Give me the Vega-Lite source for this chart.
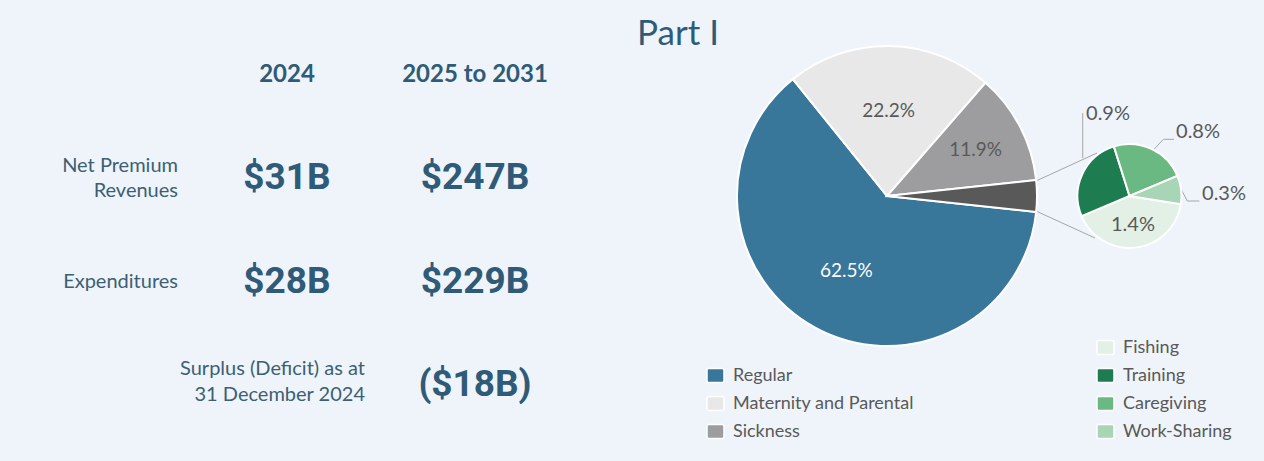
{
  "$schema": "https://vega.github.io/schema/vega-lite/v6.json",
  "background": "#EEF4F9",
  "padding": {"left": 0, "top": 17, "right": 0, "bottom": 21},
  "bounds": "flush",
  "spacing": 178.5,
  "title": {"text": "Part I", "font": "Lato", "fontSize": 35, "fontWeight": "normal", "color": "#2F5B78", "anchor": "middle", "dx": 46, "offset": -10},
  "config": {"view": {"stroke": null}, "font": "Lato"},
  "datasets": {
    "summary": [
      {"item": "Net Premium\nRevenues", "period": "2024", "value": "$31B"},
      {"item": "Net Premium\nRevenues", "period": "2025 to 2031", "value": "$247B"},
      {"item": "Expenditures", "period": "2024", "value": "$28B"},
      {"item": "Expenditures", "period": "2025 to 2031", "value": "$229B"},
      {"item": "Surplus (Deficit) as at\n31 December 2024", "period": "2025 to 2031", "value": "($18B)"}
    ],
    "main": [
      {"pie": "Main", "slice": "Regular", "share": 0.625, "k": 1},
      {"pie": "Main", "slice": "Maternity and Parental", "share": 0.222, "k": 2},
      {"pie": "Main", "slice": "Sickness", "share": 0.119, "k": 3},
      {"pie": "Main", "slice": "Other", "share": 0.034, "k": 4}
    ],
    "detail": [
      {"pie": "Detail", "slice": "Fishing", "share": 0.014, "k": 1},
      {"pie": "Detail", "slice": "Training", "share": 0.009, "k": 2},
      {"pie": "Detail", "slice": "Caregiving", "share": 0.008, "k": 3},
      {"pie": "Detail", "slice": "Work-Sharing", "share": 0.003, "k": 4}
    ]
  },
  "hconcat": [
    {
      "width": 574,
      "height": 334,
      "layer": [
        {
          "data": {"name": "summary"},
          "transform": [{"filter": "datum.item === 'Expenditures'"}],
          "mark": {"type": "text", "font": "Lato", "fontWeight": "bold", "fontSize": 24, "fill": "#2F5B77", "align": "center", "baseline": "middle"},
          "encoding": {
            "x": {"field": "period", "type": "nominal", "scale": {"type": "point", "domain": ["label", "2024", "2025 to 2031"], "padding": 0.5266}, "axis": null},
            "y": {"datum": "header", "type": "nominal", "scale": {"type": "point", "domain": ["header", "Net Premium\nRevenues", "Expenditures", "Surplus (Deficit) as at\n31 December 2024"], "padding": 0.116}, "axis": null},
            "text": {"field": "period", "type": "nominal"}
          }
        },
        {
          "data": {"name": "summary"},
          "mark": {"type": "text", "font": "Roboto", "fontWeight": "bold", "fontSize": 37, "fill": "#2F5A78", "align": "center", "baseline": "middle"},
          "encoding": {
            "x": {"field": "period", "type": "nominal", "scale": {"type": "point", "domain": ["label", "2024", "2025 to 2031"], "padding": 0.5266}, "axis": null},
            "y": {"field": "item", "type": "nominal", "scale": {"type": "point", "domain": ["header", "Net Premium\nRevenues", "Expenditures", "Surplus (Deficit) as at\n31 December 2024"], "padding": 0.116}, "axis": null},
            "text": {"field": "value", "type": "nominal"}
          }
        },
        {
          "data": {"name": "summary"},
          "transform": [{"filter": "datum.period === '2025 to 2031' && datum.item === 'Net Premium\\nRevenues'"}],
          "mark": {"type": "text", "font": "Lato", "fontSize": 20, "fill": "#3D5F75", "align": "right", "baseline": "middle", "lineBreak": "\n", "lineHeight": 25.5, "dx": 79, "dy": -12.5},
          "encoding": {
            "x": {"datum": "label", "type": "nominal", "scale": {"type": "point", "domain": ["label", "2024", "2025 to 2031"], "padding": 0.5266}, "axis": null},
            "y": {"field": "item", "type": "nominal", "scale": {"type": "point", "domain": ["header", "Net Premium\nRevenues", "Expenditures", "Surplus (Deficit) as at\n31 December 2024"], "padding": 0.116}, "axis": null},
            "text": {"field": "item", "type": "nominal"}
          }
        },
        {
          "data": {"name": "summary"},
          "transform": [{"filter": "datum.period === '2025 to 2031' && datum.item === 'Expenditures'"}],
          "mark": {"type": "text", "font": "Lato", "fontSize": 20, "fill": "#3D5F75", "align": "right", "baseline": "middle", "dx": 79, "dy": 0},
          "encoding": {
            "x": {"datum": "label", "type": "nominal", "scale": {"type": "point", "domain": ["label", "2024", "2025 to 2031"], "padding": 0.5266}, "axis": null},
            "y": {"field": "item", "type": "nominal", "scale": {"type": "point", "domain": ["header", "Net Premium\nRevenues", "Expenditures", "Surplus (Deficit) as at\n31 December 2024"], "padding": 0.116}, "axis": null},
            "text": {"field": "item", "type": "nominal"}
          }
        },
        {
          "data": {"name": "summary"},
          "transform": [{"filter": "datum.item === 'Surplus (Deficit) as at\\n31 December 2024'"}],
          "mark": {"type": "text", "font": "Lato", "fontSize": 20, "fill": "#3D5F75", "align": "right", "baseline": "middle", "lineBreak": "\n", "lineHeight": 25.5, "dx": 78, "dy": -16},
          "encoding": {
            "x": {"datum": "2024", "type": "nominal", "scale": {"type": "point", "domain": ["label", "2024", "2025 to 2031"], "padding": 0.5266}, "axis": null},
            "y": {"field": "item", "type": "nominal", "scale": {"type": "point", "domain": ["header", "Net Premium\nRevenues", "Expenditures", "Surplus (Deficit) as at\n31 December 2024"], "padding": 0.116}, "axis": null},
            "text": {"field": "item", "type": "nominal"}
          }
        }
      ]
    },
    {
      "width": 511.5,
      "height": 266,
      "resolve": {"scale": {"theta": "independent", "color": "independent"}, "legend": {"color": "independent"}},
      "layer": [
        {
          "data": {"name": "main"},
          "transform": [{"filter": "datum.slice === 'Other'"}],
          "mark": {"type": "rule", "color": "#A6A6A6", "strokeWidth": 1, "xOffset": 149, "yOffset": -15, "x2Offset": -32.5, "y2Offset": -43},
          "encoding": {
            "x": {"datum": "Main", "type": "nominal", "scale": {"type": "point", "domain": ["Main", "Detail"], "padding": 0.5546}, "axis": null},
            "x2": {"datum": "Detail"},
            "y": {"datum": 0, "type": "quantitative", "scale": {"domain": [-1, 1]}, "axis": null},
            "y2": {"datum": 0}
          }
        },
        {
          "data": {"name": "main"},
          "transform": [{"filter": "datum.slice === 'Other'"}],
          "mark": {"type": "rule", "color": "#A6A6A6", "strokeWidth": 1, "xOffset": 149, "yOffset": 15, "x2Offset": -34.5, "y2Offset": 42},
          "encoding": {
            "x": {"datum": "Main", "type": "nominal", "scale": {"type": "point", "domain": ["Main", "Detail"], "padding": 0.5546}, "axis": null},
            "x2": {"datum": "Detail"},
            "y": {"datum": 0, "type": "quantitative", "scale": {"domain": [-1, 1]}, "axis": null},
            "y2": {"datum": 0}
          }
        },
        {
          "data": {"name": "main"},
          "mark": {"type": "arc", "outerRadius": 150, "stroke": "white", "strokeWidth": 2},
          "encoding": {
            "x": {"field": "pie", "type": "nominal", "scale": {"type": "point", "domain": ["Main", "Detail"], "padding": 0.5546}, "axis": null},
            "theta": {"field": "share", "type": "quantitative", "stack": "normalize", "scale": {"range": [1.6776, 7.9608]}},
            "order": {"field": "k", "type": "quantitative"},
            "color": {
              "field": "slice", "type": "nominal",
              "scale": {"domain": ["Regular", "Maternity and Parental", "Sickness", "Other"], "range": ["#38769A", "#E8E8E8", "#9D9DA0", "#595959"]},
              "legend": {
                "title": null, "orient": "none", "legendX": -46.5, "legendY": 303,
                "values": ["Regular", "Maternity and Parental", "Sickness"],
                "symbolType": "M-1,-0.62Q-1,-0.82 -0.8,-0.82L0.8,-0.82Q1,-0.82 1,-0.62L1,0.62Q1,0.82 0.8,0.82L-0.8,0.82Q-1,0.82 -1,0.62Z",
                "symbolSize": 289, "labelFont": "Lato", "labelFontSize": 18, "labelColor": "#595959", "labelOffset": 8, "labelLimit": 400, "rowPadding": 7,
                "encode": {"symbols": {"update": {"stroke": {"value": "#7F7F7F"}, "strokeWidth": {"value": 1}}}}
              }
            }
          }
        },
        {
          "data": {"name": "main"},
          "mark": {"type": "text", "radius": 85, "font": "Lato", "fontSize": 19, "align": "center", "baseline": "middle"},
          "encoding": {
            "x": {"field": "pie", "type": "nominal", "scale": {"type": "point", "domain": ["Main", "Detail"], "padding": 0.5546}, "axis": null},
            "theta": {"field": "share", "type": "quantitative", "stack": "normalize", "scale": {"range": [1.6776, 7.9608]}},
            "order": {"field": "k", "type": "quantitative"},
            "text": {"field": "share", "type": "quantitative", "format": ".1%", "condition": {"test": "datum.slice === 'Sickness' || datum.slice === 'Other'", "value": ""}},
            "fill": {"condition": {"test": "datum.slice === 'Regular'", "value": "#FFFFFF"}, "value": "#595959"}
          }
        },
        {
          "data": {"name": "main"},
          "mark": {"type": "text", "radius": 100, "font": "Lato", "fontSize": 19, "align": "center", "baseline": "middle", "fill": "#595959"},
          "encoding": {
            "x": {"field": "pie", "type": "nominal", "scale": {"type": "point", "domain": ["Main", "Detail"], "padding": 0.5546}, "axis": null},
            "theta": {"field": "share", "type": "quantitative", "stack": "normalize", "scale": {"range": [1.6776, 7.9608]}},
            "order": {"field": "k", "type": "quantitative"},
            "text": {"field": "share", "type": "quantitative", "format": ".1%", "condition": {"test": "datum.slice !== 'Sickness'", "value": ""}}
          }
        },
        {
          "data": {"name": "detail"},
          "transform": [{"filter": "datum.slice === 'Training'"}],
          "mark": {"type": "rule", "color": "#A6A6A6", "strokeWidth": 1, "xOffset": -46.8, "yOffset": -83, "x2Offset": -46.8, "y2Offset": -38},
          "encoding": {
            "x": {"field": "pie", "type": "nominal", "scale": {"type": "point", "domain": ["Main", "Detail"], "padding": 0.5546}, "axis": null},
            "x2": {"datum": "Detail"},
            "y": {"datum": 0, "type": "quantitative", "scale": {"domain": [-1, 1]}, "axis": null},
            "y2": {"datum": 0}
          }
        },
        {
          "data": {"name": "detail"},
          "transform": [{"filter": "datum.slice === 'Caregiving'"}],
          "mark": {"type": "rule", "color": "#A6A6A6", "strokeWidth": 1, "xOffset": 24.5, "yOffset": -46.7, "x2Offset": 33.8, "y2Offset": -56.7},
          "encoding": {
            "x": {"field": "pie", "type": "nominal", "scale": {"type": "point", "domain": ["Main", "Detail"], "padding": 0.5546}, "axis": null},
            "x2": {"datum": "Detail"},
            "y": {"datum": 0, "type": "quantitative", "scale": {"domain": [-1, 1]}, "axis": null},
            "y2": {"datum": 0}
          }
        },
        {
          "data": {"name": "detail"},
          "transform": [{"filter": "datum.slice === 'Caregiving'"}],
          "mark": {"type": "rule", "color": "#A6A6A6", "strokeWidth": 1, "xOffset": 33.8, "yOffset": -56.7, "x2Offset": 44.5, "y2Offset": -56.7},
          "encoding": {
            "x": {"field": "pie", "type": "nominal", "scale": {"type": "point", "domain": ["Main", "Detail"], "padding": 0.5546}, "axis": null},
            "x2": {"datum": "Detail"},
            "y": {"datum": 0, "type": "quantitative", "scale": {"domain": [-1, 1]}, "axis": null},
            "y2": {"datum": 0}
          }
        },
        {
          "data": {"name": "detail"},
          "transform": [{"filter": "datum.slice === 'Work-Sharing'"}],
          "mark": {"type": "rule", "color": "#A6A6A6", "strokeWidth": 1, "xOffset": 52.2, "yOffset": -5.7, "x2Offset": 57.8, "y2Offset": 5},
          "encoding": {
            "x": {"field": "pie", "type": "nominal", "scale": {"type": "point", "domain": ["Main", "Detail"], "padding": 0.5546}, "axis": null},
            "x2": {"datum": "Detail"},
            "y": {"datum": 0, "type": "quantitative", "scale": {"domain": [-1, 1]}, "axis": null},
            "y2": {"datum": 0}
          }
        },
        {
          "data": {"name": "detail"},
          "transform": [{"filter": "datum.slice === 'Work-Sharing'"}],
          "mark": {"type": "rule", "color": "#A6A6A6", "strokeWidth": 1, "xOffset": 57.8, "yOffset": 5, "x2Offset": 69.8, "y2Offset": 5},
          "encoding": {
            "x": {"field": "pie", "type": "nominal", "scale": {"type": "point", "domain": ["Main", "Detail"], "padding": 0.5546}, "axis": null},
            "x2": {"datum": "Detail"},
            "y": {"datum": 0, "type": "quantitative", "scale": {"domain": [-1, 1]}, "axis": null},
            "y2": {"datum": 0}
          }
        },
        {
          "data": {"name": "detail"},
          "mark": {"type": "arc", "outerRadius": 52, "stroke": "white", "strokeWidth": 2},
          "encoding": {
            "x": {"field": "pie", "type": "nominal", "scale": {"type": "point", "domain": ["Main", "Detail"], "padding": 0.5546}, "axis": null},
            "theta": {"field": "share", "type": "quantitative", "stack": "normalize", "scale": {"range": [1.7279, 8.0111]}},
            "order": {"field": "k", "type": "quantitative"},
            "color": {
              "field": "slice", "type": "nominal",
              "scale": {"domain": ["Fishing", "Training", "Caregiving", "Work-Sharing"], "range": ["#E2F0E5", "#1E7D50", "#6BB982", "#A8D5B5"]},
              "legend": {
                "title": null, "orient": "none", "legendX": 343.5, "legendY": 275,
                "symbolType": "M-1,-0.62Q-1,-0.82 -0.8,-0.82L0.8,-0.82Q1,-0.82 1,-0.62L1,0.62Q1,0.82 0.8,0.82L-0.8,0.82Q-1,0.82 -1,0.62Z",
                "symbolSize": 289, "labelFont": "Lato", "labelFontSize": 18, "labelColor": "#595959", "labelOffset": 8, "labelLimit": 400, "rowPadding": 7,
                "encode": {"symbols": {"update": {"stroke": {"value": "#7F7F7F"}, "strokeWidth": {"value": 1}}}}
              }
            }
          }
        },
        {
          "data": {"name": "detail"},
          "mark": {"type": "text", "radius": 29, "font": "Lato", "fontSize": 20, "align": "center", "baseline": "middle", "fill": "#595959"},
          "encoding": {
            "x": {"field": "pie", "type": "nominal", "scale": {"type": "point", "domain": ["Main", "Detail"], "padding": 0.5546}, "axis": null},
            "theta": {"field": "share", "type": "quantitative", "stack": "normalize", "scale": {"range": [1.7279, 8.0111]}},
            "order": {"field": "k", "type": "quantitative"},
            "text": {"field": "share", "type": "quantitative", "format": ".1%", "condition": {"test": "datum.slice !== 'Fishing'", "value": ""}}
          }
        },
        {
          "data": {"name": "detail"},
          "transform": [{"filter": "datum.slice === 'Training'"}],
          "mark": {"type": "text", "font": "Lato", "fontSize": 20, "align": "center", "baseline": "middle", "fill": "#595959", "dx": -21.5, "dy": -82},
          "encoding": {
            "x": {"field": "pie", "type": "nominal", "scale": {"type": "point", "domain": ["Main", "Detail"], "padding": 0.5546}, "axis": null},
            "text": {"field": "share", "type": "quantitative", "format": ".1%"}
          }
        },
        {
          "data": {"name": "detail"},
          "transform": [{"filter": "datum.slice === 'Caregiving'"}],
          "mark": {"type": "text", "font": "Lato", "fontSize": 20, "align": "center", "baseline": "middle", "fill": "#595959", "dx": 68.5, "dy": -64},
          "encoding": {
            "x": {"field": "pie", "type": "nominal", "scale": {"type": "point", "domain": ["Main", "Detail"], "padding": 0.5546}, "axis": null},
            "text": {"field": "share", "type": "quantitative", "format": ".1%"}
          }
        },
        {
          "data": {"name": "detail"},
          "transform": [{"filter": "datum.slice === 'Work-Sharing'"}],
          "mark": {"type": "text", "font": "Lato", "fontSize": 20, "align": "center", "baseline": "middle", "fill": "#595959", "dx": 94.5, "dy": -2},
          "encoding": {
            "x": {"field": "pie", "type": "nominal", "scale": {"type": "point", "domain": ["Main", "Detail"], "padding": 0.5546}, "axis": null},
            "text": {"field": "share", "type": "quantitative", "format": ".1%"}
          }
        }
      ]
    }
  ]
}
